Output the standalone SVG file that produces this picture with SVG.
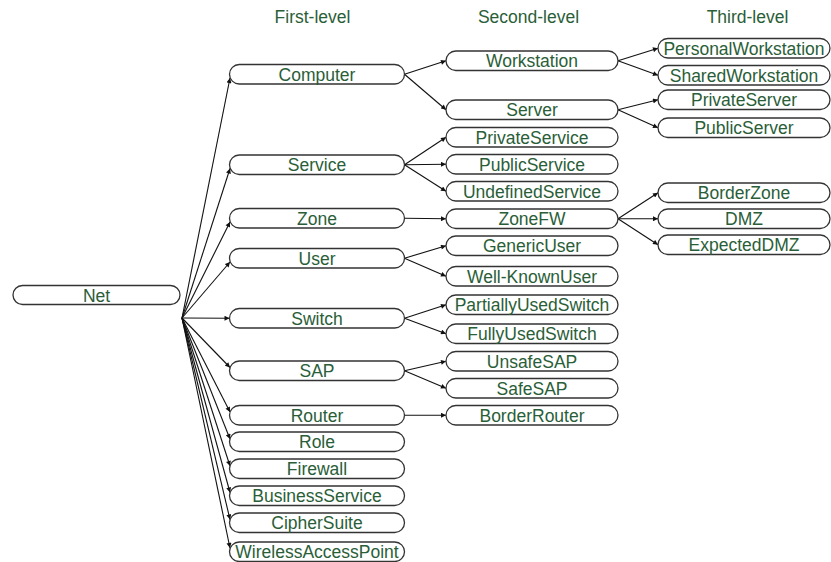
<svg xmlns="http://www.w3.org/2000/svg" width="831" height="562" viewBox="0 0 831 562">
<defs>
<style>
.n rect{fill:#fff;stroke:#333;stroke-width:1.3}
.n text,.h{font-family:"Liberation Sans",Arial,sans-serif;font-size:17.5px;fill:#2a5e38;text-anchor:middle}
.c line{stroke:#111;stroke-width:1.1;marker-end:url(#a)}
</style>
<marker id="a" viewBox="0 0 10 10" refX="10" refY="5" markerWidth="6" markerHeight="5" markerUnits="userSpaceOnUse" orient="auto">
<path d="M0,0 L10,5 L0,10 z" fill="#111"/>
</marker>
</defs>
<rect width="831" height="562" fill="#fff"/>
<g id="headers">
<text class="h" x="312.5" y="23">First-level</text>
<text class="h" x="528.5" y="23">Second-level</text>
<text class="h" x="747.5" y="23">Third-level</text>
</g>
<g class="c" id="connectors">
<line x1="182" y1="318" x2="230" y2="78"/>
<line x1="182" y1="318" x2="230" y2="168.5"/>
<line x1="182" y1="318" x2="230" y2="222"/>
<line x1="182" y1="318" x2="230" y2="262"/>
<line x1="182" y1="318" x2="229.5" y2="318.25"/>
<line x1="182" y1="318" x2="230" y2="367.5"/>
<line x1="182" y1="318" x2="230" y2="412"/>
<line x1="182" y1="318" x2="230" y2="439"/>
<line x1="182" y1="318" x2="230" y2="466"/>
<line x1="182" y1="318" x2="230" y2="492.5"/>
<line x1="182" y1="318" x2="230" y2="519.5"/>
<line x1="182" y1="318" x2="230" y2="548"/>
<line x1="404.5" y1="74.25" x2="446" y2="60.75"/>
<line x1="404.5" y1="74.25" x2="446" y2="109.75"/>
<line x1="404.5" y1="164.75" x2="446" y2="137.25"/>
<line x1="404.5" y1="164.75" x2="446" y2="164.25"/>
<line x1="404.5" y1="164.75" x2="446" y2="191.25"/>
<line x1="404.5" y1="218.25" x2="446" y2="218.75"/>
<line x1="404.5" y1="258.25" x2="446" y2="245.75"/>
<line x1="404.5" y1="258.25" x2="446" y2="276.25"/>
<line x1="404.5" y1="318.25" x2="446" y2="304.75"/>
<line x1="404.5" y1="318.25" x2="446" y2="333.75"/>
<line x1="404.5" y1="370.75" x2="446" y2="361.25"/>
<line x1="404.5" y1="370.75" x2="446" y2="388.25"/>
<line x1="404.5" y1="415.25" x2="446" y2="415.25"/>
<line x1="618" y1="60.75" x2="658" y2="48.25"/>
<line x1="618" y1="60.75" x2="658" y2="75.25"/>
<line x1="618" y1="109.75" x2="658" y2="99.75"/>
<line x1="618" y1="109.75" x2="658" y2="127.75"/>
<line x1="618" y1="218.75" x2="658" y2="192.75"/>
<line x1="618" y1="218.75" x2="658" y2="218.75"/>
<line x1="618" y1="218.75" x2="658" y2="244.75"/>
</g>
<g class="n" id="Net"><rect x="13" y="285.5" width="167" height="19" rx="9.5"/><text x="96.5" y="301.5">Net</text></g>
<g class="n" id="Computer"><rect x="229.5" y="64.5" width="175" height="19.5" rx="9.75"/><text x="317" y="80.75">Computer</text></g>
<g class="n" id="Service"><rect x="229.5" y="155" width="175" height="19.5" rx="9.75"/><text x="317" y="171.25">Service</text></g>
<g class="n" id="Zone"><rect x="229.5" y="208.5" width="175" height="19.5" rx="9.75"/><text x="317" y="224.75">Zone</text></g>
<g class="n" id="User"><rect x="229.5" y="248.5" width="175" height="19.5" rx="9.75"/><text x="317" y="264.75">User</text></g>
<g class="n" id="Switch"><rect x="229.5" y="308.5" width="175" height="19.5" rx="9.75"/><text x="317" y="324.75">Switch</text></g>
<g class="n" id="SAP"><rect x="229.5" y="361" width="175" height="19.5" rx="9.75"/><text x="317" y="377.25">SAP</text></g>
<g class="n" id="Router"><rect x="229.5" y="405.5" width="175" height="19.5" rx="9.75"/><text x="317" y="421.75">Router</text></g>
<g class="n" id="Role"><rect x="229.5" y="432" width="175" height="19.5" rx="9.75"/><text x="317" y="448.25">Role</text></g>
<g class="n" id="Firewall"><rect x="229.5" y="459" width="175" height="19.5" rx="9.75"/><text x="317" y="475.25">Firewall</text></g>
<g class="n" id="BusinessService"><rect x="229.5" y="486" width="175" height="19.5" rx="9.75"/><text x="317" y="502.25">BusinessService</text></g>
<g class="n" id="CipherSuite"><rect x="229.5" y="513" width="175" height="19.5" rx="9.75"/><text x="317" y="529.25">CipherSuite</text></g>
<g class="n" id="WirelessAccessPoint"><rect x="229.5" y="542" width="175" height="19.5" rx="9.75"/><text x="317" y="558.25">WirelessAccessPoint</text></g>
<g class="n" id="Workstation"><rect x="446" y="51" width="172" height="19.5" rx="9.75"/><text x="532" y="67.25">Workstation</text></g>
<g class="n" id="Server"><rect x="446" y="100" width="172" height="19.5" rx="9.75"/><text x="532" y="116.25">Server</text></g>
<g class="n" id="PrivateService"><rect x="446" y="127.5" width="172" height="19.5" rx="9.75"/><text x="532" y="143.75">PrivateService</text></g>
<g class="n" id="PublicService"><rect x="446" y="154.5" width="172" height="19.5" rx="9.75"/><text x="532" y="170.75">PublicService</text></g>
<g class="n" id="UndefinedService"><rect x="446" y="181.5" width="172" height="19.5" rx="9.75"/><text x="532" y="197.75">UndefinedService</text></g>
<g class="n" id="ZoneFW"><rect x="446" y="209" width="172" height="19.5" rx="9.75"/><text x="532" y="225.25">ZoneFW</text></g>
<g class="n" id="GenericUser"><rect x="446" y="236" width="172" height="19.5" rx="9.75"/><text x="532" y="252.25">GenericUser</text></g>
<g class="n" id="Well-KnownUser"><rect x="446" y="266.5" width="172" height="19.5" rx="9.75"/><text x="532" y="282.75">Well-KnownUser</text></g>
<g class="n" id="PartiallyUsedSwitch"><rect x="446" y="295" width="172" height="19.5" rx="9.75"/><text x="532" y="311.25">PartiallyUsedSwitch</text></g>
<g class="n" id="FullyUsedSwitch"><rect x="446" y="324" width="172" height="19.5" rx="9.75"/><text x="532" y="340.25">FullyUsedSwitch</text></g>
<g class="n" id="UnsafeSAP"><rect x="446" y="351.5" width="172" height="19.5" rx="9.75"/><text x="532" y="367.75">UnsafeSAP</text></g>
<g class="n" id="SafeSAP"><rect x="446" y="378.5" width="172" height="19.5" rx="9.75"/><text x="532" y="394.75">SafeSAP</text></g>
<g class="n" id="BorderRouter"><rect x="446" y="405.5" width="172" height="19.5" rx="9.75"/><text x="532" y="421.75">BorderRouter</text></g>
<g class="n" id="PersonalWorkstation"><rect x="658" y="38.5" width="172" height="19.5" rx="9.75"/><text x="744" y="54.75">PersonalWorkstation</text></g>
<g class="n" id="SharedWorkstation"><rect x="658" y="65.5" width="172" height="19.5" rx="9.75"/><text x="744" y="81.75">SharedWorkstation</text></g>
<g class="n" id="PrivateServer"><rect x="658" y="90" width="172" height="19.5" rx="9.75"/><text x="744" y="106.25">PrivateServer</text></g>
<g class="n" id="PublicServer"><rect x="658" y="118" width="172" height="19.5" rx="9.75"/><text x="744" y="134.25">PublicServer</text></g>
<g class="n" id="BorderZone"><rect x="658" y="183" width="172" height="19.5" rx="9.75"/><text x="744" y="199.25">BorderZone</text></g>
<g class="n" id="DMZ"><rect x="658" y="209" width="172" height="19.5" rx="9.75"/><text x="744" y="225.25">DMZ</text></g>
<g class="n" id="ExpectedDMZ"><rect x="658" y="235" width="172" height="19.5" rx="9.75"/><text x="744" y="251.25">ExpectedDMZ</text></g>
</svg>
